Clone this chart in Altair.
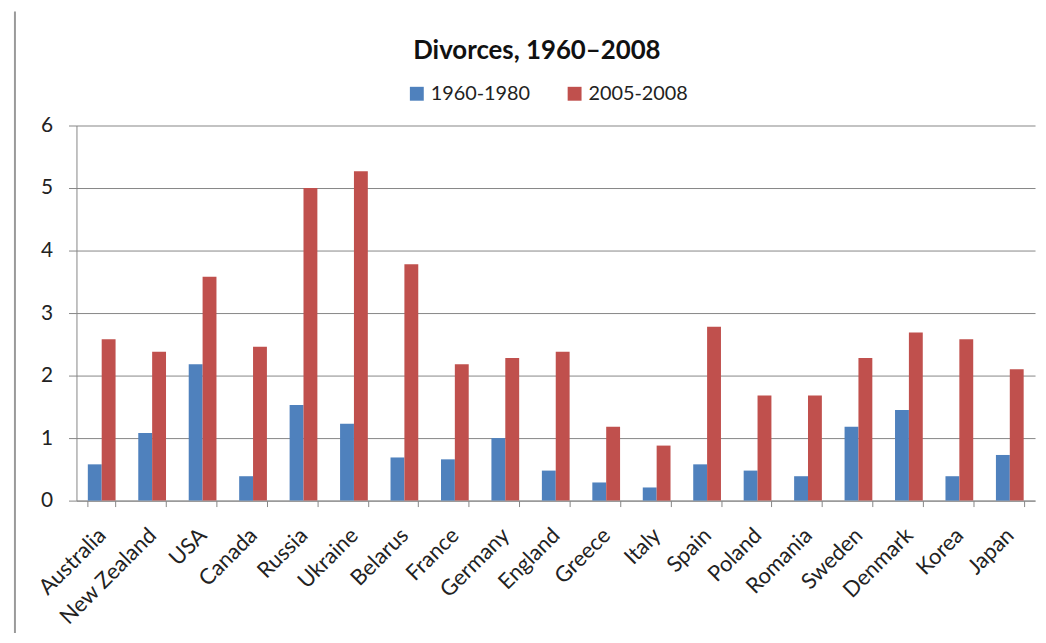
import altair as alt
import pandas as pd

countries = ["Australia", "New Zealand", "USA", "Canada", "Russia", "Ukraine",
             "Belarus", "France", "Germany", "England", "Greece", "Italy",
             "Spain", "Poland", "Romania", "Sweden", "Denmark", "Korea", "Japan"]
v1960_1980 = [0.58, 1.08, 2.18, 0.39, 1.53, 1.23, 0.69, 0.66, 1.00, 0.48,
              0.29, 0.21, 0.58, 0.48, 0.39, 1.18, 1.45, 0.39, 0.73]
v2005_2008 = [2.58, 2.38, 3.58, 2.46, 5.00, 5.27, 3.78, 2.18, 2.28, 2.38,
              1.18, 0.88, 2.78, 1.68, 1.68, 2.28, 2.69, 2.58, 2.10]
periods = ["1960-1980", "2005-2008"]
colors = ["#4F81BD", "#C0504D"]

rows = []
for c, a, b in zip(countries, v1960_1980, v2005_2008):
    rows.append({"country": c, "period": periods[0], "value": a})
    rows.append({"country": c, "period": periods[1], "value": b})
df = pd.DataFrame(rows)

W, H = 966, 378
FONT = "Lato"

bars = alt.Chart(df).mark_bar().encode(
    x=alt.X("country:N", sort=countries,
            scale=alt.Scale(paddingInner=0.45, paddingOuter=0.225),
            axis=alt.Axis(title=None, labelAngle=-45, labelFontSize=22, labelFont=FONT,
                          labelColor="#222222", tickBand="extent", tickSize=6,
                          tickColor="#868686", domainColor="#868686",
                          labelBaseline="middle", labelAlign="right",
                          labelPadding=25, grid=False)),
    xOffset=alt.XOffset("period:N", sort=periods),
    y=alt.Y("value:Q", scale=alt.Scale(domain=[0, 6]),
            axis=alt.Axis(title=None, values=[0, 1, 2, 3, 4, 5, 6], labelFontSize=21,
                          labelFont=FONT, labelColor="#222222", tickSize=8,
                          tickColor="#868686", domainColor="#868686",
                          gridColor="#868686", labelPadding=16, format="d")),
    color=alt.Color("period:N", sort=periods,
                    scale=alt.Scale(domain=periods, range=colors),
                    legend=alt.Legend(title=None, orient="none", direction="horizontal",
                                      legendX=333, legendY=-42, symbolType="square",
                                      symbolSize=196, symbolStrokeWidth=0,
                                      labelFontSize=20, labelFont=FONT,
                                      labelColor="#222222", labelOffset=4,
                                      columnPadding=34)),
)

border = alt.Chart(pd.DataFrame({"k": [0]})).mark_rule(
    color="#9a9a9a", strokeWidth=2).encode(
    x=alt.value(-62), y=alt.value(-115), y2=alt.value(520))

chart = alt.layer(bars, border).properties(
    width=W, height=H,
    title=alt.TitleParams("Divorces, 1960\u20132008", fontSize=26, font=FONT,
                          fontWeight="bold", color="#111111", anchor="middle",
                          dx=-19, offset=-54),
    autosize=alt.AutoSizeParams(type="none"),
    padding={"left": 69, "top": 116, "right": 3, "bottom": 131},
).configure_view(stroke=None)

chart.save("out.html", embed_options={"renderer": "svg", "actions": False})
